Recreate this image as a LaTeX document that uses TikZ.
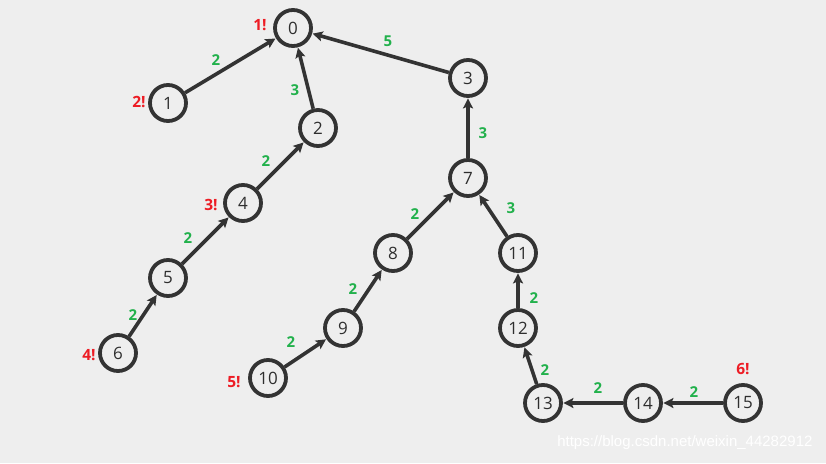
\documentclass[tikz,border=0pt]{standalone}
\usepackage{fontspec}
\setmainfont{Open Sans}
\usetikzlibrary{arrows.meta}
\definecolor{bg}{HTML}{EEEEEE}
\definecolor{ink}{HTML}{333333}
\definecolor{wgreen}{HTML}{22B14C}
\definecolor{wred}{HTML}{ED1C24}
\tikzset{
  vert/.style={circle,draw=ink,line width=3.8pt,fill=bg,minimum size=36pt,inner sep=0pt,font=\fontsize{17}{17}\selectfont,text=ink!90!black},
  edge/.style={draw=ink,line width=3.6pt,-{Stealth[length=10pt,width=10pt,inset=2pt]},shorten >=0.5pt},
  wlab/.style={font=\bfseries\fontsize{15}{15}\selectfont,text=wgreen},
  olab/.style={font=\bfseries\fontsize{15.5}{15.5}\selectfont,text=wred},
}
\begin{document}
\begin{tikzpicture}[x=1pt,y=-1pt]
\fill[bg] (0,0) rectangle (826,463);
\useasboundingbox (0,0) rectangle (826,463);
\node[vert] (n0) at (293,28) {0};
\node[vert] (n1) at (168,103) {1};
\node[vert] (n2) at (318,128) {2};
\node[vert] (n3) at (468,78) {3};
\node[vert] (n4) at (243,203) {4};
\node[vert] (n5) at (168,278) {5};
\node[vert] (n6) at (118,353) {6};
\node[vert] (n7) at (468,178) {7};
\node[vert] (n8) at (393,253) {8};
\node[vert] (n9) at (343,328) {9};
\node[vert] (n10) at (268,378) {10};
\node[vert] (n11) at (518,253) {11};
\node[vert] (n12) at (518,328) {12};
\node[vert] (n13) at (543,403) {13};
\node[vert] (n14) at (643,403) {14};
\node[vert] (n15) at (743,403) {15};
\draw[edge] (n1) -- (n0);
\draw[edge] (n2) -- (n0);
\draw[edge] (n3) -- (n0);
\draw[edge] (n4) -- (n2);
\draw[edge] (n5) -- (n4);
\draw[edge] (n6) -- (n5);
\draw[edge] (n7) -- (n3);
\draw[edge] (n8) -- (n7);
\draw[edge] (n9) -- (n8);
\draw[edge] (n10) -- (n9);
\draw[edge] (n11) -- (n7);
\draw[edge] (n12) -- (n11);
\draw[edge] (n13) -- (n12);
\draw[edge] (n14) -- (n13);
\draw[edge] (n15) -- (n14);
\node[wlab] (w10) at (216,60) {2};
\node[wlab] (w20) at (295,90) {3};
\node[wlab] (w30) at (388,41) {5};
\node[wlab] (w42) at (266,161) {2};
\node[wlab] (w54) at (188,238) {2};
\node[wlab] (w65) at (133,315) {2};
\node[wlab] (w73) at (483,133) {3};
\node[wlab] (w87) at (415,214) {2};
\node[wlab] (w98) at (353,289) {2};
\node[wlab] (w109) at (291,342) {2};
\node[wlab] (w117) at (511,208) {3};
\node[wlab] (w1211) at (534,298) {2};
\node[wlab] (w1312) at (545,370) {2};
\node[wlab] (w1413) at (598,388) {2};
\node[wlab] (w1514) at (694,392) {2};
\node[olab] (o1) at (260,25) {1!};
\node[olab] (o2) at (139,102) {2!};
\node[olab] (o3) at (211,205) {3!};
\node[olab] (o4) at (89,355) {4!};
\node[olab] (o5) at (234,382) {5!};
\node[olab] (o6) at (743,369) {6!};
\node[text=white,font=\fontspec{Liberation Sans}\fontsize{15}{15}\selectfont,anchor=east] (wm) at (816,443) {https://blog.csdn.net/weixin\_44282912};
\end{tikzpicture}
\end{document}
